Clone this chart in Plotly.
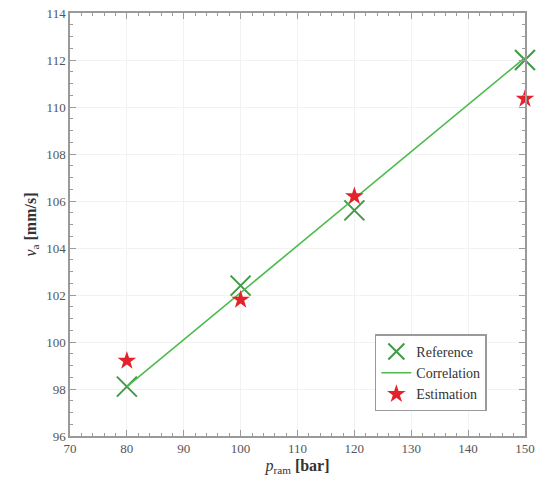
import plotly.graph_objects as go

p_ref = [80, 100, 120, 150]
v_ref = [98.1, 102.4, 105.6, 112.0]
p_corr = [80, 150]
v_corr = [98.1, 112.1]
p_est = [80, 100, 120, 150]
v_est = [99.2, 101.8, 106.2, 110.35]

font = "Liberation Serif, Times New Roman, DejaVu Serif, serif"
fig = go.Figure()
fig.add_trace(go.Scatter(x=p_ref, y=v_ref, mode="markers", name="Reference", cliponaxis=False,
                         marker=dict(symbol="x-thin", size=20, line=dict(width=2, color="#3f9a46"), color="#3f9a46")))
fig.add_trace(go.Scatter(x=p_corr, y=v_corr, mode="lines", name="Correlation",
                         line=dict(color="#4cba4c", width=1.6)))
fig.add_trace(go.Scatter(x=p_est, y=v_est, mode="markers", name="Estimation", cliponaxis=False,
                         marker=dict(symbol="star", size=14, color="#e3232b", line=dict(width=0))))

axis_common = dict(showline=True, linecolor="#9a9a9a", linewidth=1.5, mirror="allticks",
                   ticks="inside", tickcolor="#9a9a9a", ticklen=6,
                   showgrid=True, gridcolor="#f2f2f2", zeroline=False,
                   ticklabeloverflow="allow",
                   tickfont=dict(family=font, size=13, color="#555"))
fig.update_xaxes(range=[70, 150.001], dtick=10, tick0=70,
                 minor=dict(dtick=2, ticks="inside", ticklen=3, tickcolor="#9a9a9a", showgrid=False),
                 title=dict(text="<i>p</i><sub>ram</sub> <b>[bar]</b>", font=dict(family=font, size=16, color="#333"), standoff=4),
                 **axis_common)
fig.update_yaxes(range=[96, 114.001], dtick=2, tick0=96,
                 minor=dict(dtick=0.5, ticks="inside", ticklen=3, tickcolor="#9a9a9a", showgrid=False),
                 title=dict(text="<i>v</i><sub>a</sub> <b>[mm/s]</b>", font=dict(family=font, size=16, color="#333"), standoff=6),
                 **axis_common)
fig.update_layout(width=539, height=492, plot_bgcolor="white", paper_bgcolor="white",
                  margin=dict(l=70, r=4, t=13, b=56),
                  legend=dict(x=0.67, y=0.24, xanchor="left", yanchor="top",
                              bordercolor="#9a9a9a", borderwidth=1.5, bgcolor="white",
                              font=dict(family=font, size=14, color="#333"),
                              tracegroupgap=0, itemwidth=30))
fig.write_html("out.html")
